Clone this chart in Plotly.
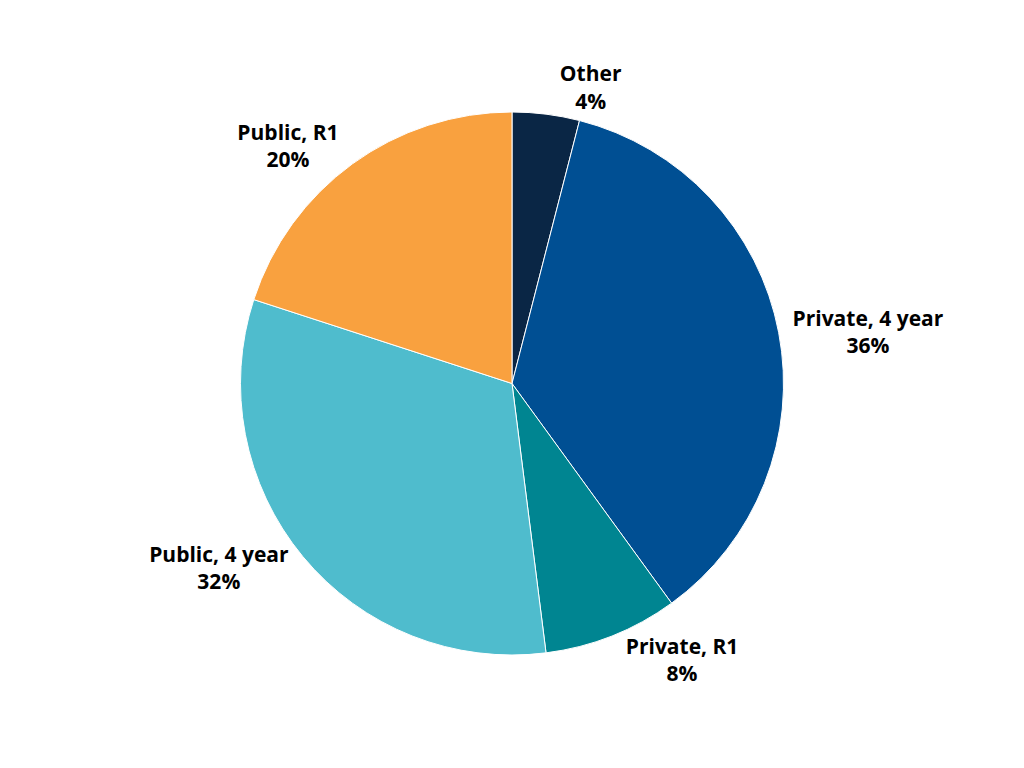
import plotly.graph_objects as go

categories = ["Other", "Private, 4 year", "Private, R1", "Public, 4 year", "Public, R1"]
shares = [4, 36, 8, 32, 20]
slice_colors = ["#0a2645", "#004f93", "#008591", "#4fbccd", "#f9a13f"]


def create_institution_pie():
    fig = go.Figure(go.Pie(
        labels=categories,
        values=shares,
        sort=False,
        direction="clockwise",
        rotation=0,
        marker=dict(colors=slice_colors, line=dict(color="white", width=1)),
        textposition="outside",
        textinfo="label+percent",
        texttemplate="<b>%{label}</b><br><b>%{percent:.0%}</b>",
        textfont=dict(family="Open Sans", size=21, color="black"),
        automargin=False,
        showlegend=False,
    ))

    fig.update_layout(
        height=768,
        margin=dict(l=0, r=0, t=104, b=121),
        paper_bgcolor="white",
        plot_bgcolor="white",
    )
    return fig


def main():
    fig = create_institution_pie()
    fig.write_html("out.html")


if __name__ == "__main__":
    main()
